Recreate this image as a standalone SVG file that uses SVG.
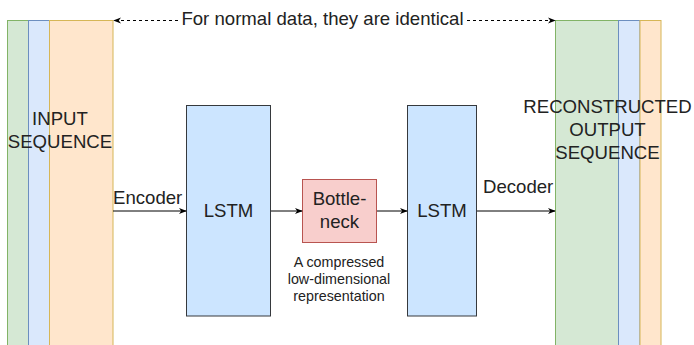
<svg xmlns="http://www.w3.org/2000/svg" width="694" height="345" viewBox="0 0 694 345">
<style>
text{font-family:"Liberation Sans",Arial,sans-serif;fill:#222}
.big{font-size:18.6px}
.small{font-size:14.3px}
.g{fill:#d5e8d4;stroke:#82b366;stroke-width:1}
.b{fill:#dae8fc;stroke:#6c8ebf;stroke-width:1}
.o{fill:#ffe6cc;stroke:#d6b656;stroke-width:1}
.lstm{fill:#cce5ff;stroke:#36393d;stroke-width:1}
.bn{fill:#f8cecc;stroke:#b85450;stroke-width:1}
.edge{fill:none;stroke:#000;stroke-width:1}
.dash{stroke-dasharray:3 3}
</style>
<defs>
<marker id="ah" viewBox="0 0 10 10" refX="9" refY="5" markerWidth="8" markerHeight="8" markerUnits="userSpaceOnUse" orient="auto">
<path d="M0,1 L10,5 L0,9 L3,5 Z" fill="#000"/>
</marker>
</defs>
<rect width="694" height="345" fill="#fff"/>
<g id="input-sequence">
<rect class="g" x="7.5" y="20.5" width="21" height="330"/>
<rect class="b" x="28.5" y="20.5" width="21" height="330"/>
<rect class="o" x="49.5" y="20.5" width="63.5" height="330"/>
<text class="big" x="60" y="125" text-anchor="middle">INPUT</text>
<text class="big" x="60" y="148" text-anchor="middle">SEQUENCE</text>
</g>
<g id="output-sequence">
<rect class="g" x="555.5" y="20.5" width="63" height="330"/>
<rect class="b" x="618.5" y="20.5" width="21.5" height="330"/>
<rect class="o" x="640" y="20.5" width="21" height="330"/>
<text class="big" x="607.5" y="113" text-anchor="middle">RECONSTRUCTED</text>
<text class="big" x="607.5" y="136" text-anchor="middle">OUTPUT</text>
<text class="big" x="607.5" y="159" text-anchor="middle">SEQUENCE</text>
</g>
<g id="lstm1">
<rect class="lstm" x="186.5" y="105.5" width="84" height="210.5"/>
<text class="big" x="228.5" y="217" text-anchor="middle">LSTM</text>
</g>
<g id="bottleneck">
<rect class="bn" x="302.5" y="179.5" width="74" height="63"/>
<text class="big" x="339.5" y="205" text-anchor="middle">Bottle-</text>
<text class="big" x="339.5" y="228" text-anchor="middle">neck</text>
</g>
<g id="caption">
<text class="small" x="339" y="267" text-anchor="middle">A compressed</text>
<text class="small" x="339" y="284" text-anchor="middle">low-dimensional</text>
<text class="small" x="339" y="301" text-anchor="middle">representation</text>
</g>
<g id="lstm2">
<rect class="lstm" x="407.5" y="105.5" width="69" height="210.5"/>
<text class="big" x="442" y="217" text-anchor="middle">LSTM</text>
</g>
<g id="connectors">
<path class="edge" d="M113,211 L186,211" marker-end="url(#ah)"/>
<text class="big" x="113" y="204">Encoder</text>
<path class="edge" d="M271,211 L302,211" marker-end="url(#ah)"/>
<path class="edge" d="M377,211 L407,211" marker-end="url(#ah)"/>
<path class="edge" d="M477,211 L555,211" marker-end="url(#ah)"/>
<text class="big" x="483" y="193">Decoder</text>
<path class="edge dash" d="M178,20.5 L114,20.5" marker-end="url(#ah)"/>
<path class="edge dash" d="M467,20.5 L555,20.5" marker-end="url(#ah)"/>
<text class="big" x="322.5" y="24.5" text-anchor="middle">For normal data, they are identical</text>
</g>
</svg>
